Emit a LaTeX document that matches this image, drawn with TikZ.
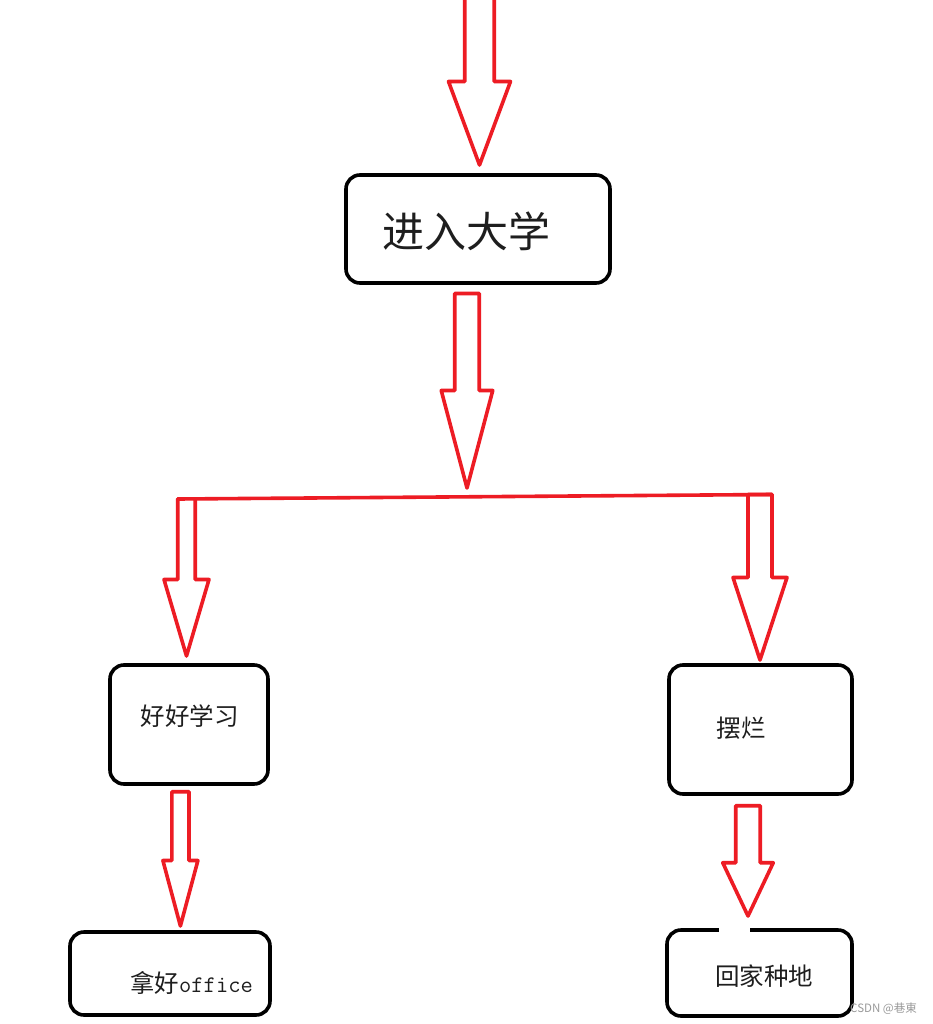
\documentclass[tikz,border=0pt]{standalone}
\usepackage{fontspec}
\newfontfamily\cjk{Noto Sans CJK SC}
\definecolor{paintred}{HTML}{ED1C24}
\definecolor{txt}{HTML}{1E1E1E}
\definecolor{wm}{HTML}{9A9A9A}
\tikzset{
  box/.style={draw=black, line width=3.6pt, rounded corners=14pt, inner sep=0pt, fill=white},
  redline/.style={draw=paintred, line width=3.6pt, line join=round, line cap=round},
  label/.style={text=txt, inner sep=0pt, anchor=base},
}
% #1 cx, #2 top y, #3 shaft half width, #4 head y, #5 head half width, #6 tip y
\newcommand\closedarrow[6]{%
  \draw[redline] ({#1-#3},#2) -- ({#1-#3},#4) -- ({#1-#5},#4) -- (#1,#6) -- ({#1+#5},#4) -- ({#1+#3},#4) -- ({#1+#3},#2) -- cycle;}
\newcommand\openarrow[6]{%
  \draw[redline] ({#1-#3},#2) -- ({#1-#3},#4) -- ({#1-#5},#4) -- (#1,#6) -- ({#1+#5},#4) -- ({#1+#3},#4) -- ({#1+#3},#2);}
\begin{document}
\begin{tikzpicture}[x=1pt, y=-1pt]
\useasboundingbox (0,0) rectangle (933,1024);
\fill[white] (0,0) rectangle (933,1024);

% boxes
\node[box, minimum width=264pt, minimum height=108pt] (uni) at (478,229) {};
\node[box, minimum width=158pt, minimum height=119pt] (study) at (189,724.5) {};
\node[box, minimum width=183pt, minimum height=129pt] (slack) at (760.5,729.5) {};
\node[box, minimum width=200pt, minimum height=83pt] (office) at (170,973.5) {};
\node[box, minimum width=185pt, minimum height=86pt] (farm) at (759.5,973) {};
\draw[white, line width=5pt] (719,930) -- (750,930);

% texts
\node[label, font=\cjk\fontsize{42}{42}\selectfont] (tuni) at (466.7,247.7) {进入大学};
\node[label, font=\cjk\fontsize{24.5}{24.5}\selectfont] (tstudy) at (189.5,725.3) {好好学习};
\node[label, font=\cjk\fontsize{24.5}{24.5}\selectfont] (tslack) at (741,737.3) {摆烂};
\node[label, font=\cjk\fontsize{24.5}{24.5}\selectfont] (toffice) at (191.5,992.8) {拿好{\ttfamily\fontsize{23.8}{24}\selectfont office}};
\node[label, font=\cjk\fontsize{24.5}{24.5}\selectfont] (tfarm) at (764,985.8) {回家种地};
\node[text=wm, inner sep=0pt, anchor=base, font=\cjk\fontsize{11.5}{11.5}\selectfont] (wmark) at (883.5,1012) {CSDN @巷東};

% arrows
\openarrow{479.5}{-5}{14.75}{81.5}{31}{165}
\closedarrow{467}{293.5}{12.25}{390.5}{25.75}{488}
\coordinate (bl) at (177.75,499);
\coordinate (br) at (772,494.5);
\draw[redline] (bl) -- (br);
\openarrow{186.5}{499}{8.75}{579.5}{22.5}{656}
\closedarrow{760}{494.5}{12}{577.5}{27}{660}
\closedarrow{180.4}{791.75}{8.6}{860.5}{17.5}{926}
\closedarrow{748}{805.75}{12.25}{862.75}{25.25}{916}
\end{tikzpicture}
\end{document}
